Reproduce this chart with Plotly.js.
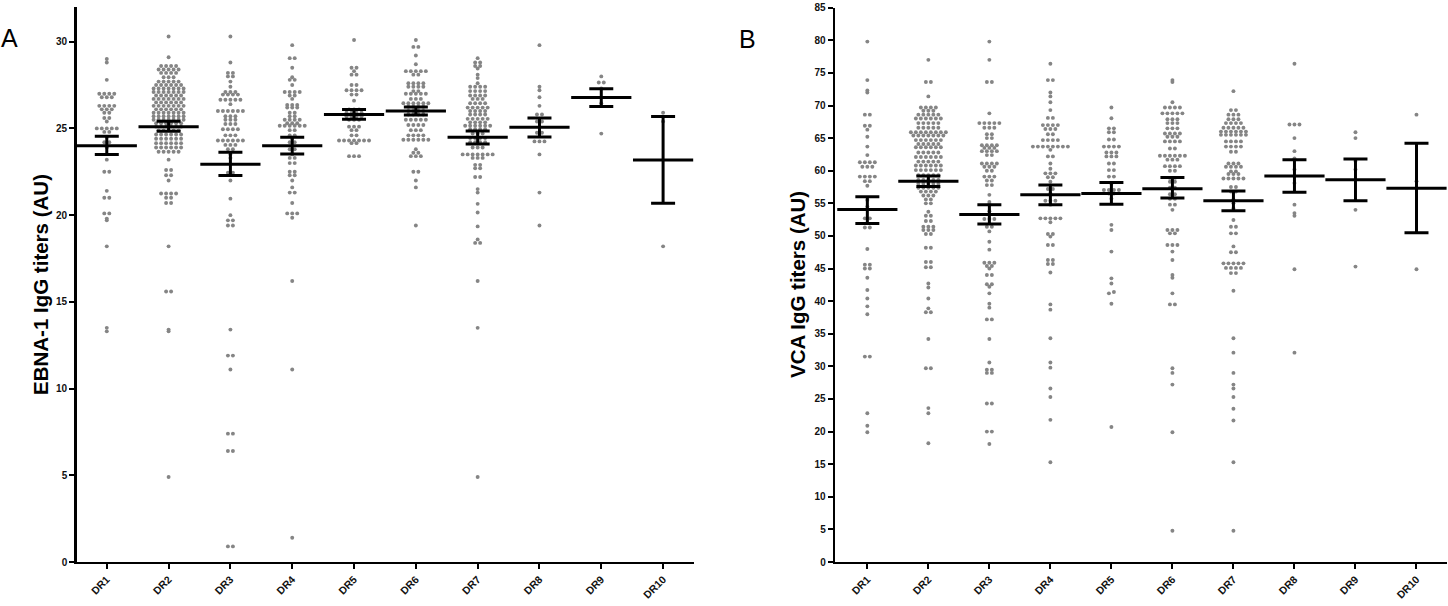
<!DOCTYPE html>
<html>
<head>
<meta charset="utf-8">
<script src="https://cdn.plot.ly/plotly-3.0.1.min.js"></script>
<style>html,body{margin:0;padding:0;background:#fff;}#chart{width:1448px;height:606px;}</style>
</head>
<body>
<div id="chart"></div>
<script>
// ---------------- DATA ----------------
const categories = ['DR1','DR2','DR3','DR4','DR5','DR6','DR7','DR8','DR9','DR10'];
const yTicksA = [0,5,10,15,20,25,30];
const yTicksB = [0,5,10,15,20,25,30,35,40,45,50,55,60,65,70,75,80,85];

// Panel A: EBNA-1 IgG titers (AU)
const A_DR1 = [29.0,28.8,27.8,27.0,27.0,27.0,27.0,26.8,26.8,26.8,26.3,26.3,26.3,26.3,26.1,26.1,26.1,25.9,25.9,25.6,25.6,25.4,
  25.0,25.0,25.0,25.0,25.0,24.8,24.8,24.5,24.2,24.2,23.9,23.2,22.5,22.5,21.4,21.0,21.0,20.1,20.1,19.8,19.7,18.2,13.5,13.3];
const A_DR2 = [30.3,29.1,
  28.6,28.6,28.6,28.6, 28.4,28.4,28.4,28.4,28.4, 28.2,28.2,28.2,28.2, 27.95,27.95,27.95,
  27.7,27.7,27.7,27.7,27.7, 27.5,27.5,27.5,27.5,27.5,27.5, 27.3,27.3,27.3,27.3,27.3,27.3,27.3,
  27.1,27.1,27.1,27.1,27.1,27.1,27.1, 26.9,26.9,26.9,26.9,26.9,26.9,
  26.7,26.7,26.7,26.7,26.7,26.7,26.7, 26.5,26.5,26.5,26.5,26.5,26.5,
  26.3,26.3,26.3,26.3,26.3,26.3,26.3, 26.1,26.1,26.1,26.1,26.1,26.1,
  25.9,25.9,25.9,25.9,25.9,25.9,25.9, 25.7,25.7,25.7,25.7,25.7,25.7,25.7,
  25.5,25.5,25.5,25.5,25.5,25.5,25.5, 25.3,25.3,25.3,25.3,25.3,25.3,
  25.1,25.1,25.1,25.1,25.1,25.1, 24.9,24.9,24.9,24.9,24.9, 24.65,24.65,24.65,24.65,24.65,24.65,
  24.4,24.4,24.4,24.4,24.4,24.4, 24.15,24.15,24.15,24.15,24.15,24.15,
  23.9,23.9,23.9,23.9,23.9,23.9, 23.65,23.65,23.65,23.65,23.65,
  23.2,22.6,22.6,22.3,22.3,22.0,21.25,21.25,21.25,21.25,21.0,21.0,20.7,20.7,18.2,15.6,15.6,13.4,13.3,4.9];
const A_DR3 = [30.3,28.8,28.2,28.2,28.0,28.0,27.7,27.4,27.1,27.1,27.1,26.95,26.95,26.95,26.95,
  26.65,26.65,26.65,26.65,26.65,26.4,26.0,26.0,26.0,26.0,26.0,26.0,25.7,25.7,25.7,25.5,25.5,25.5,
  25.25,25.25,25.25,24.95,24.95,24.95,24.95,24.6,24.6,24.6,24.3,24.3,24.3,24.3,24.3,24.3,
  24.05,24.05,24.05,23.8,23.8,23.5,23.3,22.45,22.45,22.0,20.95,20.0,19.7,19.7,19.4,19.4,
  13.4,11.9,11.9,11.1,7.4,7.4,6.4,6.4,0.9,0.9];
const A_DR4 = [29.8,29.05,29.05,28.5,27.95,27.8,27.8,27.5,27.1,27.1,27.1,27.1,26.9,26.9,26.7,
  26.35,26.35,26.35,26.2,26.2,26.2,25.9,25.9,25.7,25.7,25.5,25.5,25.5,25.5,25.3,25.3,25.3,
  25.15,25.15,25.15,25.15,25.15,25.15,24.9,24.9,24.6,24.6,24.4,24.2,24.2,23.8,23.8,23.5,
  23.3,23.3,23.0,23.0,22.5,22.5,22.3,22.3,22.0,21.6,21.3,21.3,20.7,20.1,20.1,20.1,19.85,16.2,11.1,1.4];
const A_DR5 = [30.1,28.5,28.5,28.3,28.1,28.1,27.5,27.5,27.2,27.2,27.2,27.2,26.95,26.95,26.6,
  26.1,26.1,26.1,25.9,25.9,25.9,25.9,25.7,25.7,25.7,25.7,25.5,25.5,25.5,25.1,25.1,25.1,
  24.9,24.9,24.6,24.6,24.3,24.3,24.3,24.3,24.3,24.3,24.3,24.15,24.15,23.4,23.4,23.4];
const A_DR6 = [30.1,29.7,29.7,29.2,28.7,28.3,28.3,28.3,28.3,28.3,28.1,28.1,27.6,27.6,27.6,27.6,
  27.4,27.4,27.4,27.4,27.15,27.15,27.0,27.0,27.0,27.0,27.0,26.7,26.7,26.7,
  26.45,26.45,26.45,26.45,26.45,26.45,26.25,26.25,26.25,26.25,26.0,26.0,26.0,26.0,
  25.8,25.8,25.8,25.8,25.5,25.5,25.5,25.5,25.5,25.2,25.2,25.2,25.2,24.9,24.9,24.9,
  24.6,24.6,24.6,24.6,24.35,24.35,24.35,24.35,24.35,24.35,23.8,23.6,23.6,23.4,23.4,23.4,
  22.5,22.5,22.0,21.6,19.4];
const A_DR7 = [29.05,28.8,28.8,28.6,28.6,28.45,28.1,27.9,27.6,27.4,27.4,27.4,27.4,
  27.15,27.15,27.15,27.15,26.9,26.9,26.9,26.9,26.7,26.7,26.7,
  26.45,26.45,26.45,26.45,26.2,26.2,26.2,26.2,26.2,26.0,26.0,26.0,26.0,
  25.8,25.8,25.8,25.8,25.55,25.55,25.55,25.55,25.55,25.35,25.35,25.35,25.35,
  25.15,25.15,25.15,25.15,25.15,25.15,24.95,24.95,24.95,24.95,
  24.7,24.7,24.7,24.45,24.45,24.45,24.45,24.2,24.2,24.2,24.2,23.9,23.9,23.9,
  23.5,23.5,23.5,23.5,23.5,23.5,23.5,23.3,23.3,23.3,22.9,22.9,22.7,22.7,22.2,22.2,
  21.5,21.3,20.65,20.15,19.35,18.6,18.4,18.4,16.2,13.5,4.9];
const A_DR8 = [29.8,27.4,27.2,26.8,26.3,25.8,25.8,25.4,25.4,24.75,24.75,24.25,24.25,24.25,23.5,21.3,19.4];
const A_DR9 = [28.0,27.65,27.65,27.3,26.45,24.7];
const A_DR10 = [25.9,25.4,18.2];
const meanA  = [24.0, 25.09, 22.93, 24.0, 25.8, 26.0, 24.49, 25.07, 26.78, 23.18];
const semHiA = [24.55, 25.41, 23.62, 24.49, 26.09, 26.24, 24.85, 25.6, 27.28, 25.69];
const semLoA = [23.5, 24.84, 22.29, 23.53, 25.53, 25.78, 24.1, 24.5, 26.27, 20.69];

// Panel B: VCA IgG titers (AU)
const B_DR1 = [79.8,73.9,72.3,72.0,68.6,68.6,66.9,66.9,66.3,65.2,63.7,62.4,61.3,61.3,61.3,61.3,
  60.6,60.6,60.6,59.1,59.1,59.1,59.1,58.4,58.4,57.7,55.5,54.5,52.7,52.7,51.3,51.3,48.0,45.6,45.6,
  45.0,45.0,43.6,41.7,40.4,39.2,38.0,31.5,31.5,22.8,20.9,19.9];
const B_DR2 = [77.0,73.6,73.6,71.4,69.7,69.7,69.7,69.7,69.2,69.2,69.2,68.6,68.6,68.6,68.6,68.6,
  68.0,68.0,68.0,68.0,68.0,68.0,67.3,67.3,67.3,67.3,67.3,66.6,66.6,66.6,66.6,66.6,
  65.9,65.9,65.9,65.9,65.9,65.9,65.9,65.9,65.4,65.4,65.4,65.4,65.4,65.4,65.4,
  64.7,64.7,64.7,64.7,64.7,64.7,64.1,64.1,64.1,64.1,64.1,63.6,63.6,63.6,63.6,63.6,63.6,
  62.8,62.8,62.8,62.8,62.8,62.1,62.1,62.1,62.1,62.1,62.1,61.4,61.4,61.4,61.4,61.4,
  60.8,60.8,60.8,60.8,60.8,60.8,60.1,60.1,60.1,60.1,60.1,60.1,59.3,59.3,59.3,59.3,59.3,
  58.6,58.6,58.6,58.6,58.6,58.0,58.0,58.0,58.0,58.0,57.4,57.4,57.4,57.4,57.4,
  56.8,56.8,56.8,56.8,56.2,56.2,56.2,55.6,55.6,55.0,55.0,53.7,53.1,53.1,52.3,52.3,
  51.4,51.4,51.4,50.9,50.9,50.9,50.3,50.3,48.2,48.2,46.0,46.0,45.2,45.2,42.7,42.1,40.4,
  38.9,38.3,38.3,34.2,29.7,29.7,23.6,22.8,18.2];
const B_DR3 = [79.8,77.0,73.6,73.6,68.8,67.3,67.3,67.3,67.3,67.3,66.6,66.6,66.6,65.6,65.6,65.0,65.0,
  63.9,63.9,63.9,63.9,63.5,63.5,63.5,63.0,63.0,63.0,63.0,62.4,62.4,61.1,61.1,61.1,61.1,
  60.6,60.6,60.6,60.0,60.0,59.1,59.1,59.1,58.5,58.5,57.8,57.8,56.3,55.2,54.9,53.8,
  52.6,52.6,52.6,51.4,51.4,50.7,49.1,47.9,45.9,45.9,45.9,45.4,45.4,45.0,44.0,44.0,
  42.6,42.6,42.2,41.2,39.6,39.0,37.2,37.2,34.2,30.6,29.5,29.5,29.0,29.0,24.3,24.3,20.0,20.0,18.1];
const B_DR4 = [76.4,73.9,73.9,72.0,71.4,70.5,69.3,68.1,68.1,67.0,67.0,67.0,67.0,66.4,66.4,66.4,
  65.6,65.6,64.7,64.7,64.7,64.7,63.7,63.7,63.7,63.7,63.7,63.7,63.7,63.7,63.2,62.2,62.2,
  61.1,60.3,59.6,59.6,59.6,59.0,59.0,58.3,57.2,57.2,56.5,55.4,55.4,55.4,54.8,
  52.7,52.7,52.7,52.7,52.7,52.1,50.3,50.3,49.9,48.6,48.6,46.3,46.3,45.7,45.7,44.4,
  39.5,38.7,34.3,30.6,29.8,26.6,25.3,21.8,15.3];
const B_DR5 = [69.7,68.05,66.5,66.5,65.9,65.9,64.8,64.8,63.7,63.7,63.7,63.7,62.8,62.8,62.8,
  62.2,62.2,62.2,61.1,61.1,60.1,60.1,59.1,59.1,58.0,57.05,57.05,57.05,57.05,56.5,56.5,55.7,
  51.7,50.9,47.6,43.5,42.7,41.4,41.2,39.6,20.7];
const B_DR6 = [73.9,73.6,70.5,69.7,69.7,69.7,69.7,68.8,68.8,68.8,68.8,68.8,67.9,67.9,67.9,
  67.3,67.3,67.3,66.5,66.5,66.5,65.7,65.7,65.7,65.7,65.2,65.2,65.2,64.5,64.5,64.5,64.5,
  63.4,63.4,62.3,62.3,62.3,62.3,62.3,62.3,61.7,61.7,61.7,60.7,60.7,60.7,60.7,60.0,60.0,
  58.9,58.9,58.3,58.3,57.4,57.4,56.4,56.4,55.7,55.7,54.8,54.8,54.0,
  50.9,50.9,50.9,50.4,50.4,48.6,48.6,48.6,47.6,46.3,44.0,43.6,41.2,39.5,39.5,29.7,29.0,27.2,19.9,4.8];
const B_DR7 = [72.2,69.3,69.3,68.6,68.6,68.6,67.9,67.9,67.9,67.3,67.3,67.3,67.3,
  66.6,66.6,66.6,66.6,66.6,66.0,66.0,66.0,66.0,66.0,66.0,65.5,65.5,65.5,65.5,65.5,65.5,
  64.5,64.5,64.5,64.5,63.7,63.7,63.7,63.7,62.9,62.9,61.1,61.1,61.1,60.6,60.6,60.6,60.6,
  59.9,59.9,59.5,59.5,59.5,58.8,58.8,58.8,58.8,58.8,57.5,57.5,56.8,56.8,55.6,55.0,54.2,
  52.45,51.4,51.4,50.4,50.4,48.4,47.5,47.5,45.8,45.8,45.8,45.8,45.8,45.1,45.1,45.1,45.1,44.3,44.3,
  41.6,34.3,32.1,29.0,27.2,26.6,25.3,23.5,21.7,15.3,4.8];
const B_DR8 = [76.4,67.1,67.1,67.1,65.0,63.0,61.9,60.2,58.1,54.8,53.5,53.1,44.9,32.1];
const B_DR9 = [65.9,65.0,61.5,60.2,54.0,45.3];
const B_DR10 = [68.6,58.4,44.9];
const meanB  = [54.05, 58.4, 53.3, 56.3, 56.5, 57.25, 55.4, 59.2, 58.6, 57.3];
const semHiB = [56.0, 59.2, 54.8, 57.8, 58.2, 58.95, 56.9, 61.7, 61.8, 64.2];
const semLoB = [51.9, 57.6, 51.85, 54.8, 54.85, 55.8, 53.85, 56.7, 55.4, 50.5];

// ---------------- LAYOUT / DRAWING ----------------
const W = 1448, H = 606;
const FONT = 'Liberation Sans, Arial, Helvetica, sans-serif';
const DOT_GAP = 5;     // px between neighbouring dots in a row
const ROW_TOL = 1.5;   // px: values closer than this share a row

const panelA = {xPx:[76.5,694], yPx:[7,562], xr:[-0.49,9.5], yr:[0,32]};
const panelB = {xPx:[835,1447], yPx:[7.7,562], xr:[-0.53,9.5], yr:[0,85]};

function swarm(groups, p) {
  const pxPerCat = (p.xPx[1]-p.xPx[0])/(p.xr[1]-p.xr[0]);
  const pxPerUnit = (p.yPx[1]-p.yPx[0])/(p.yr[1]-p.yr[0]);
  const xs = [], ys = [];
  groups.forEach((vals, gi) => {
    const sorted = vals.slice().sort((a,b)=>a-b);
    const rows = [];
    sorted.forEach(v => {
      const last = rows[rows.length-1];
      if (last && (v-last.start)*pxPerUnit < ROW_TOL) last.items.push(v);
      else rows.push({start:v, items:[v]});
    });
    rows.forEach(r => {
      const n = r.items.length;
      r.items.forEach((v,i) => { xs.push(gi + (i-(n-1)/2)*DOT_GAP/pxPerCat); ys.push(v); });
    });
  });
  return {xs, ys};
}

const sA = swarm([A_DR1,A_DR2,A_DR3,A_DR4,A_DR5,A_DR6,A_DR7,A_DR8,A_DR9,A_DR10], panelA);
const sB = swarm([B_DR1,B_DR2,B_DR3,B_DR4,B_DR5,B_DR6,B_DR7,B_DR8,B_DR9,B_DR10], panelB);
const idx = categories.map((c,i)=>i);

function dots(s, xa, ya) {
  return {type:'scatter', mode:'markers', x:s.xs, y:s.ys, xaxis:xa, yaxis:ya,
    marker:{size:3.9, color:'#858585'}, hoverinfo:'y'};
}
function meanBars(mean, hi, lo, xa, ya) {
  return {type:'scatter', mode:'markers', x:idx, y:mean, xaxis:xa, yaxis:ya,
    marker:{symbol:'line-ew', size:43, color:'black', line:{width:3, color:'black'}},
    error_y:{type:'data', symmetric:false,
      array: hi.map((h,i)=>h-mean[i]), arrayminus: lo.map((l,i)=>mean[i]-l),
      color:'black', thickness:3, width:12}};
}

function xAxis(p, anchor) {
  return {domain:[p.xPx[0]/W, p.xPx[1]/W], range:p.xr, anchor:anchor,
    tickvals:idx, ticktext:categories.map(c=>'<b>'+c+'</b>'), tickangle:-45,
    showline:true, linewidth:2.3, linecolor:'black', ticks:'outside', ticklen:5, tickwidth:2, tickcolor:'black',
    showgrid:false, zeroline:false, tickfont:{family:FONT, size:10.5, color:'#111'}, fixedrange:true};
}
function yAxis(p, ticks, anchor) {
  return {domain:[(H-p.yPx[1])/H, (H-p.yPx[0])/H], range:p.yr, anchor:anchor,
    tickvals:ticks, ticktext:ticks.map(t=>'<b>'+t+'</b>'),
    showline:true, linewidth:2.3, linecolor:'black', ticks:'outside', ticklen:5, tickwidth:2, tickcolor:'black',
    showgrid:false, zeroline:false, tickfont:{family:FONT, size:10, color:'#111'}, fixedrange:true};
}

const layout = {
  width:W, height:H, margin:{l:0,r:0,t:0,b:0}, showlegend:false,
  paper_bgcolor:'white', plot_bgcolor:'white',
  xaxis: xAxis(panelA,'y'), yaxis: yAxis(panelA, yTicksA, 'x'),
  xaxis2: xAxis(panelB,'y2'), yaxis2: yAxis(panelB, yTicksB, 'x2'),
  annotations:[
    {text:'<b>EBNA-1 IgG titers (AU)</b>', xref:'paper', yref:'paper', x:40/W, y:(H-285)/H,
     textangle:-90, showarrow:false, xanchor:'center', yanchor:'middle', font:{family:FONT, size:20.5, color:'black'}},
    {text:'<b>VCA IgG titers (AU)</b>', xref:'paper', yref:'paper', x:797/W, y:(H-285)/H,
     textangle:-90, showarrow:false, xanchor:'center', yanchor:'middle', font:{family:FONT, size:20.5, color:'black'}},
    {text:'A', xref:'paper', yref:'paper', x:9/W, y:(H-38)/H, showarrow:false,
     xanchor:'center', yanchor:'middle', font:{family:FONT, size:25, color:'black'}},
    {text:'B', xref:'paper', yref:'paper', x:748/W, y:(H-39)/H, showarrow:false,
     xanchor:'center', yanchor:'middle', font:{family:FONT, size:25, color:'black'}}
  ]
};

Plotly.newPlot('chart', [
  dots(sA,'x','y'), dots(sB,'x2','y2'),
  meanBars(meanA, semHiA, semLoA, 'x','y'), meanBars(meanB, semHiB, semLoB, 'x2','y2')
], layout, {displayModeBar:false, staticPlot:true});
</script>
</body>
</html>
